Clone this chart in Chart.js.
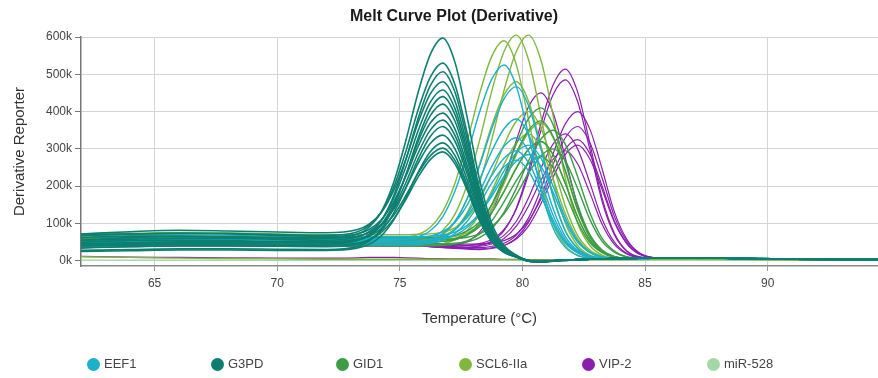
<!DOCTYPE html>
<html>
<head>
<meta charset="utf-8">
<script src="https://cdn.jsdelivr.net/npm/chart.js@4.4.1/dist/chart.umd.min.js"></script>
<style>
  body { margin: 0; background: #fff; }
  #wrap { position: relative; width: 878px; height: 378px; }
  #legend { position: absolute; left: 0; top: 0; width: 878px; height: 378px; pointer-events: none; }
  .lg-dot { position: absolute; width: 13px; height: 13px; border-radius: 50%; }
  .lg-txt { position: absolute; font: 13px Arial, "Liberation Sans", sans-serif; color: #444; line-height: 16px; }
</style>
</head>
<body>
<div id="wrap">
  <canvas id="grafica" width="878" height="378"></canvas>
  <div id="legend"></div>
</div>
<script>
// temperature grid (°C)
const temps = [62, 64, 66, 68, 70, 72, 73.25, 73.75, 74.25, 74.75, 75.25, 75.75, 76.25, 76.75, 77.25,
  77.75, 78.25, 78.75, 79.25, 79.75, 80.25, 80.75, 81.25, 81.75, 82.25, 82.75, 83.25, 83.75, 84.25, 84.75,
  85.5, 87, 89, 91, 94.5];

const groups = ['EEF1', 'G3PD', 'GID1', 'SCL6-IIa', 'VIP-2', 'miR-528'];
const yTicks = [0, 100000, 200000, 300000, 400000, 500000, 600000];
const xTicks = [65, 70, 75, 80, 85, 90];

// derivative reporter, in thousands, one row per well
const eef1 = [
  [52,56,58,57,56,55, 56,57,57,57,58,64,81,118,187,285,398,487,525, 468,338,192,88,36,14,7, 5,5,6,6,7,8,6,5,3],
  [48,50,52,52,50,50, 50,50,50,50,51,53,58,73,106,167,254,354,434,467, 416,301,171,79,33,13,7, 5,6,6,7,8,6,5,3],
  [62,64,64,63,61,60, 60,60,60,61,61,62,66,78,103,150,217,294,354,380, 339,245,140,65,28,11,6, 5,6,6,7,8,6,5,3],
  [40,44,46,46,45,45, 45,45,45,45,46,47,51,61,83,125,185,253,307,330, 294,213,122,57,25,11,6, 5,6,6,7,8,6,5,3],
  [55,58,58,57,56,55, 55,55,55,55,56,56,57,60,69,89,126,180,241,290,310, 276,200,115,54,23,10,6, 6,6,7,8,6,5,3],
  [50,53,54,53,51,50, 50,50,50,50,50,51,55,64,83,119,170,229,275,295, 263,191,109,51,22,10,6, 5,6,6,7,8,6,5,3],
  [68,70,70,68,66,65, 65,65,65,65,65,65,66,69,77,95,127,173,226,267,285, 254,184,106,50,22,10,6, 6,6,7,8,6,5,3],
  [38,40,42,42,42,42, 42,42,42,42,42,43,47,55,73,106,154,208,252,270, 241,175,100,47,21,9,6, 5,6,6,7,8,6,5,3]
];

const g3pd = [
  [55,62,65,64,62,62, 71,90,132,210,323,452,554,597, 532,384,218,100,41,15, 0,-3,-1,1,3,4,5,6,6,7,8,8,6,4,3],
  [68,72,74,73,70,68, 77,94,130,197,294,405,493,530, 472,341,194,89,37,14, 0,-2,0,2,3,4,5,6,6,7,8,8,6,4,3],
  [40,44,46,46,45,45, 54,71,107,174,271,382,470,507, 452,326,186,85,35,14, -1,-3,0,2,3,4,5,6,6,7,8,8,6,4,3],
  [72,78,82,80,77,75, 83,98,130,188,273,371,448,480, 428,309,176,81,34,13, 0,-2,0,2,3,4,5,6,6,7,8,8,6,4,3],
  [55,58,60,60,58,55, 63,78,109,168,252,349,426,458, 408,295,168,77,32,13, 1,-2,0,2,3,4,5,6,6,7,8,8,6,4,3],
  [28,30,32,32,31,30, 38,53,85,145,231,329,407,440, 392,283,162,75,31,12, -1,-3,0,1,3,4,5,6,6,7,8,8,6,4,3],
  [45,48,50,50,49,48, 55,69,98,152,230,320,390,420, 374,271,154,71,30,12, 0,-3,0,2,3,4,5,6,6,7,8,8,6,4,3],
  [68,72,74,72,68,65, 72,84,110,158,227,307,370,396, 353,255,146,68,28,12, 0,-2,0,2,3,4,5,6,6,7,8,8,6,4,3],
  [45,48,50,50,50,50, 57,68,94,142,210,289,351,377, 336,243,139,65,27,11, -1,-3,0,2,3,4,5,6,6,7,8,8,6,4,3],
  [34,38,40,40,39,38, 44,56,81,128,196,273,334,360, 321,232,133,62,26,11, 0,-2,0,2,3,4,5,6,6,7,8,8,6,4,3],
  [62,66,66,64,62,60, 66,76,97,138,196,262,315,337, 300,217,125,58,25,11, 1,-2,0,2,3,4,5,6,6,7,8,8,6,4,3],
  [25,27,29,29,28,28, 34,44,67,109,169,238,293,316, 282,204,117,55,24,10, -1,-4,-1,1,3,4,5,6,6,7,8,8,6,4,3],
  [50,54,55,54,52,52, 57,66,86,122,175,235,282,302, 269,195,112,53,23,10, 0,-2,0,2,3,4,5,6,6,7,8,8,6,4,3],
  [40,42,43,43,42,42, 47,56,76,112,165,225,272,292, 260,189,108,51,22,10, 0,-3,0,2,3,4,5,6,6,7,8,8,6,4,3]
];

const gid1 = [
  [48,52,54,53,51,50, 50,50,50,50,50,50,50,52,57,70,99,151,226,313,381,410, 365,264,151,70,29,12,6, 6,7,8,6,5,3],
  [64,66,66,65,63,62, 62,62,62,62,62,62,62,64,68,80,104,150,215,290,350,375, 334,242,138,64,27,11,6, 6,7,8,6,5,3],
  [42,45,46,46,45,45, 45,45,45,45,45,45,45,45,47,51,62,86,130,194,268,326,350, 312,226,129,60,26,11,6, 7,8,6,5,3],
  [55,57,58,57,56,55, 55,55,55,55,55,55,55,56,60,70,91,129,185,248,299,320, 285,207,118,55,24,10,6, 6,7,8,6,5,3],
  [60,62,62,61,59,58, 58,58,58,58,58,58,58,58,59,63,72,91,126,177,235,281,300, 268,194,111,52,23,10,6, 7,8,6,5,3],
  [38,40,41,41,40,40, 40,40,40,40,40,40,40,41,45,53,72,107,158,215,261,280, 250,181,104,49,22,9,6, 6,7,8,6,5,3]
];

const scl6 = [
  [50,56,60,60,57,55, 55,55,55,55,56,57,58,66,86,129,209,325,457,561,605, 539,389,221,101,41,15,7, 6,6,7,8,6,5,3],
  [45,50,52,52,51,50, 50,50,50,51,52,53,61,81,125,205,322,455,561,605, 539,389,221,101,41,15,7, 5,6,6,7,8,6,5,3],
  [58,62,64,63,61,60, 60,60,60,60,63,71,90,132,208,320,447,548,590, 526,379,216,99,40,15,7, 5,5,6,6,7,8,6,5,3],
  [42,46,48,48,46,45, 45,45,45,46,47,48,54,69,104,167,258,363,445,480, 428,309,176,81,34,13,7, 5,6,6,7,8,6,5,3],
  [72,74,76,75,72,70, 70,70,70,70,70,71,72,77,88,115,162,232,311,374,400, 357,258,147,68,29,12,6, 6,6,7,8,6,5,3],
  [48,50,52,52,51,50, 50,50,50,50,50,50,50,52,56,68,93,140,207,284,344,370, 330,239,136,63,27,11,6, 6,7,8,6,5,3],
  [36,38,40,40,40,40, 40,40,40,40,40,40,42,46,57,81,124,187,259,316,340, 303,219,126,59,25,11,6, 6,6,7,8,6,5,3],
  [60,62,63,62,61,60, 60,60,60,60,60,60,60,62,65,75,95,133,187,250,299,320, 285,207,118,55,24,10,6, 6,7,8,6,5,3],
  [11,9,7,6,5,4, 4,4,4,4,4,4,4,4,4,4,4,4,3,3, 2,2,2,2,3,3,3,3,3,3,4,4,3,2,1]
];

const vip2 = [
  [38,40,42,42,42,42,42,42,42,42,42,43,40,37,36,36, 41,52,81,141,242,366,471,514, 453,315,168,74,27,11, 7,8,6,5,3],
  [40,44,46,46,45,45,45,45,45,45,46,47,45,44,43,42, 46,57,84,139,232,348,445,485, 427,298,159,70,26,10, 7,8,6,5,3],
  [36,38,40,40,40,40,40,40,40,40,40,40,39,38, 42,52,77,129,215,322,413,450, 397,276,147,65,25,10,6, 6,7,8,6,5,3],
  [38,40,41,41,40,40,40,40,40,40,40,40,38,37,36,35,35, 39,47,69,115,192,287,367,400, 353,246,131,58,22,8,8,6,5,3],
  [38,40,42,42,42,42,42,42,42,42,42,43,38,35,33,31,30, 33,41,61,103,172,258,330,360, 317,222,119,53,21,8,8,6,5,3],
  [42,45,46,46,45,45,45,45,45,45,45,45,44,43,42,41, 43,50,68,106,169,247,313,340, 300,209,112,50,20,9, 7,8,6,5,3],
  [42,46,48,48,46,45,45,45,45,46,47,48,47,46,45,45,45, 48,54,71,107,165,238,300,325, 287,200,107,48,19,8,8,6,5,3],
  [38,40,41,41,40,40,40,40,40,40,40,40,38,36,34,33,32, 35,41,58,93,152,224,285,310, 273,191,103,46,18,8,8,6,5,3],
  [40,44,46,46,45,45,45,45,45,45,46,47,44,41,38,37, 39,45,60,93,147,215,272,295, 260,182,98,44,18,8, 7,8,6,5,3],
  [12,10,9,8,7,7, 8,9,9,9,8,7,6,6,5,5,5,5,4,4, 3,3,3,3,3,4,4,4,4,4,5,5,4,3,2]
];

const mir528 = [
  [2,2,2,2,1,1, 1,1,1,1,1,1,1,1,1,1,1,1,1,1, 0,0,1,1,1,1,1,1,1,2,2,2,2,1,1]
];

const colores = {
  'EEF1': '#1cb0c9',
  'G3PD': '#0d7f71',
  'GID1': '#3c9c46',
  'SCL6-IIa': '#7fb83e',
  'VIP-2': '#8a1eae',
  'miR-528': '#a3d8a6'
};

const grosor = { 'EEF1': 1.4, 'G3PD': 1.6, 'GID1': 1.4, 'SCL6-IIa': 1.4, 'VIP-2': 1.2, 'miR-528': 1.2 };

// Chart.js paints dataset 0 last (on top): teal first, purple near the bottom
const orden = [
  ['G3PD', g3pd],
  ['EEF1', eef1],
  ['GID1', gid1],
  ['SCL6-IIa', scl6],
  ['VIP-2', vip2],
  ['miR-528', mir528]
];

const datasets = [];
orden.forEach(([nombre, filas]) => {
  filas.forEach(fila => {
    datasets.push({
      label: nombre,
      data: temps.map((t, i) => ({ x: t, y: fila[i] * 1000 })),
      borderColor: colores[nombre],
      borderWidth: grosor[nombre],
      pointRadius: 0,
      cubicInterpolationMode: 'monotone',
      clip: false
    });
  });
});

const tituloPlugin = {
  id: 'tituloPlugin',
  afterDraw(chart) {
    const ctx = chart.ctx;
    ctx.save();
    ctx.font = 'bold 16px Arial, "Liberation Sans", sans-serif';
    ctx.fillStyle = '#1a1a1a';
    ctx.textAlign = 'center';
    ctx.textBaseline = 'middle';
    ctx.fillText('Melt Curve Plot (Derivative)', 454, 17);
    ctx.restore();
  }
};

const fuente = 'Arial, "Liberation Sans", sans-serif';

new Chart(document.getElementById('grafica').getContext('2d'), {
  type: 'line',
  data: { datasets },
  options: {
    responsive: false,
    animation: false,
    devicePixelRatio: 1,
    layout: { padding: { top: 37, right: 0, bottom: 43, left: 0 } },
    scales: {
      x: {
        type: 'linear',
        min: 62,
        max: 94.5,
        afterBuildTicks: s => { s.ticks = xTicks.map(v => ({ value: v })); },
        afterFit: s => { s.height = 69; },
        grid: { color: '#d4d4d4', tickColor: '#999', tickLength: 5 },
        border: { color: '#888', width: 1.5 },
        ticks: { color: '#444', font: { family: fuente, size: 12 }, padding: 5, maxRotation: 0 },
        title: {
          display: true,
          text: 'Temperature (°C)',
          color: '#333',
          font: { family: fuente, size: 15 },
          padding: { top: 4, bottom: 7 }
        }
      },
      y: {
        min: -14000,
        max: 600000,
        afterBuildTicks: s => { s.ticks = yTicks.map(v => ({ value: v })); },
        afterFit: s => { s.width = 81; },
        grid: { color: '#d4d4d4', tickColor: '#777', tickLength: 6 },
        border: { color: '#777', width: 1.5 },
        ticks: {
          color: '#444',
          font: { family: fuente, size: 12 },
          padding: 3,
          callback: v => (v / 1000) + 'k'
        },
        title: {
          display: true,
          text: 'Derivative Reporter',
          color: '#333',
          font: { family: fuente, size: 15 },
          padding: { top: 11, bottom: 4 }
        }
      }
    },
    plugins: {
      legend: { display: false },
      tooltip: { enabled: false }
    }
  },
  plugins: [tituloPlugin]
});

// legend row under the plot
const leyendaX = [93, 217, 342, 465, 588, 713];
const leyenda = document.getElementById('legend');
groups.forEach((nombre, i) => {
  const dot = document.createElement('div');
  dot.className = 'lg-dot';
  dot.style.background = colores[nombre];
  dot.style.left = (leyendaX[i] - 6.5) + 'px';
  dot.style.top = (364 - 6.5) + 'px';
  leyenda.appendChild(dot);
  const txt = document.createElement('span');
  txt.className = 'lg-txt';
  txt.textContent = nombre;
  txt.style.left = (leyendaX[i] + 11) + 'px';
  txt.style.top = (364 - 8) + 'px';
  leyenda.appendChild(txt);
});
</script>
</body>
</html>
